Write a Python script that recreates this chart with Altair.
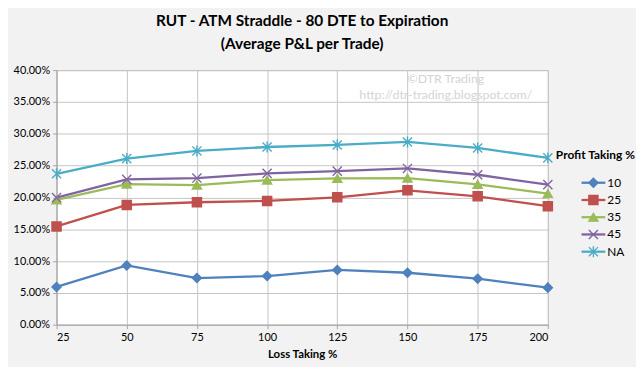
import altair as alt
import pandas as pd

loss_taking = [25, 50, 75, 100, 125, 150, 175, 200]
series_names = ["10", "25", "35", "45", "NA"]
pt10 = [5.93, 9.30, 7.33, 7.64, 8.60, 8.16, 7.23, 5.82]
pt25 = [15.44, 18.82, 19.24, 19.45, 20.02, 21.11, 20.18, 18.62]
pt35 = [19.60, 22.10, 21.94, 22.72, 22.98, 23.04, 22.05, 20.59]
pt45 = [19.97, 22.83, 23.04, 23.77, 24.13, 24.55, 23.56, 22.00]
ptNA = [23.71, 26.10, 27.30, 27.92, 28.24, 28.71, 27.77, 26.21]
y_ticks = [0, 0.05, 0.10, 0.15, 0.20, 0.25, 0.30, 0.35, 0.40]

colors = ["#4f81bd", "#c0504d", "#9bbb59", "#8064a2", "#4bacc6"]
shapes = ["diamond", "square", "triangle-up",
          "M-1,-1L1,1M-1,1L1,-1",
          "M-1,-1L1,1M-1,1L1,-1M0,-1.2L0,1.2"]

rows = []
for name, vals in zip(series_names, [pt10, pt25, pt35, pt45, ptNA]):
    for x, v in zip(loss_taking, vals):
        rows.append({"loss": x, "pnl": v / 100.0, "series": name})
df = pd.DataFrame(rows)
legend_df = pd.DataFrame({"series": series_names})

FONT = "Lato"
color_scale = alt.Scale(domain=series_names, range=colors)
shape_scale = alt.Scale(domain=series_names, range=shapes)

x_axis = alt.Axis(values=loss_taking, title="Loss Taking %", format="d",
                  labelFontSize=11, titleFontSize=11.5, titleFontWeight="bold",
                  titlePadding=6, tickSize=4, labelPadding=3, labelOverlap=False)
y_axis = alt.Axis(values=y_ticks, tickCount=9, format=".2%", title=None,
                  labelFontSize=11, tickSize=4, labelPadding=3, labelOverlap=False)
x_enc = alt.X("loss:Q", scale=alt.Scale(domain=[25, 200], nice=False), axis=x_axis)
y_enc = alt.Y("pnl:Q", scale=alt.Scale(domain=[0, 0.40], nice=False), axis=y_axis)

base = alt.Chart(df).encode(x=x_enc, y=y_enc)

lines = base.mark_line(strokeWidth=2.3).encode(
    color=alt.Color("series:N", scale=color_scale, legend=None),
    detail="series:N",
)
points = base.mark_point(filled=True, size=85, strokeWidth=1.4, opacity=1).encode(
    fill=alt.Fill("series:N", scale=color_scale, legend=None),
    stroke=alt.Stroke("series:N", scale=color_scale, legend=None),
    shape=alt.Shape("series:N", scale=shape_scale, legend=None),
)

wm_df = pd.DataFrame({"t": ["\u00a9DTR Trading", "http://dtr-trading.blogspot.com/"]})
wm1 = alt.Chart(wm_df.iloc[[0]]).mark_text(
    font=FONT, fontSize=12.5, color="#d4d4d4", align="center", baseline="middle"
).encode(text="t:N", x=alt.value(393), y=alt.value(9))
wm2 = alt.Chart(wm_df.iloc[[1]]).mark_text(
    font=FONT, fontSize=12.5, color="#d4d4d4", align="center", baseline="middle"
).encode(text="t:N", x=alt.value(393), y=alt.value(25))

main = alt.layer(lines, points, wm1, wm2)

leg_y = alt.Y("series:N", scale=alt.Scale(domain=series_names, range=[105, 192]), axis=None)
leg_rules = alt.Chart(legend_df).mark_rule(strokeWidth=2.3).encode(
    x=alt.value(530), x2=alt.value(554), y=leg_y,
    color=alt.Color("series:N", scale=color_scale, legend=None),
)
leg_points = alt.Chart(legend_df).mark_point(filled=True, size=85, strokeWidth=1.4, opacity=1).encode(
    x=alt.value(542), y=leg_y,
    fill=alt.Fill("series:N", scale=color_scale, legend=None),
    stroke=alt.Stroke("series:N", scale=color_scale, legend=None),
    shape=alt.Shape("series:N", scale=shape_scale, legend=None),
)
leg_text = alt.Chart(legend_df).mark_text(
    font=FONT, fontSize=12, align="left", baseline="middle", color="#000000"
).encode(x=alt.value(556), y=leg_y, text="series:N")
leg_title = alt.Chart(legend_df.iloc[[0]]).mark_text(
    font=FONT, fontSize=12, fontWeight="bold", align="center", baseline="middle", color="#000000"
).encode(x=alt.value(544), y=alt.value(86), text=alt.value("Profit Taking %"))

legend = alt.layer(leg_rules, leg_points, leg_text, leg_title)

chart = alt.layer(main, legend).resolve_scale(y="independent").properties(
    width=496, height=257,
    padding={"left": 5, "top": 4, "right": 0, "bottom": 5},
    background="#f2f2f2",
    title=alt.TitleParams(
        text=["RUT - ATM Straddle - 80 DTE to Expiration", "(Average P&L per Trade)"],
        font=FONT, fontSize=15.5, fontWeight="bold", color="#000000",
        anchor="middle", lineHeight=23, offset=12, frame="group",
    ),
).configure_view(fill="#ffffff", stroke="#bfbfbf").configure_axis(
    labelFont=FONT, titleFont=FONT, labelColor="#000000", titleColor="#000000",
    gridColor="#c4c4c4", domainColor="#a6a6a6", tickColor="#a6a6a6",
    gridWidth=1, domainWidth=1,
)

chart.save("out.html", embed_options={"renderer": "svg", "actions": False})
